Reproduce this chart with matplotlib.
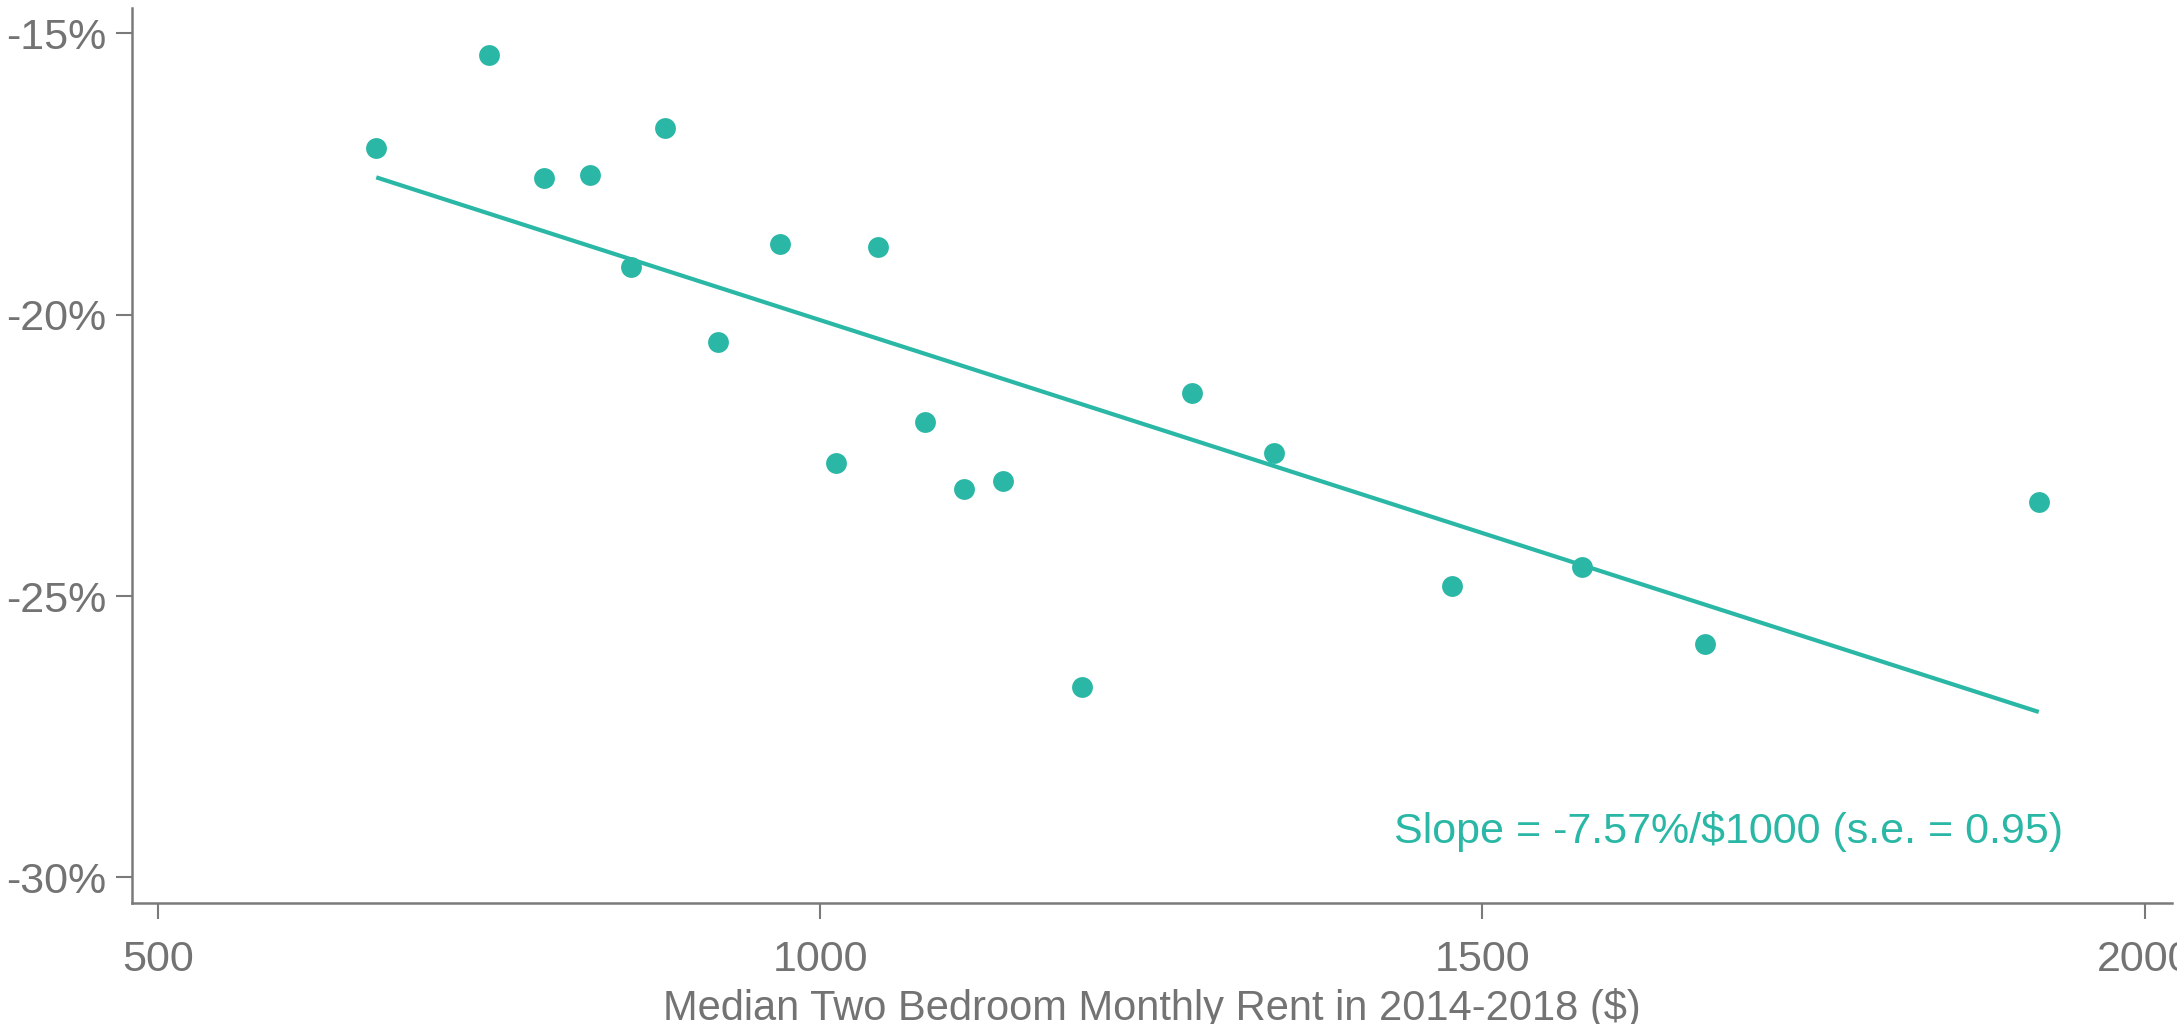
import numpy as np
import matplotlib
matplotlib.use("Agg")
import matplotlib.pyplot as plt
from matplotlib.ticker import FuncFormatter

# ===== Datos =====
rent = [665, 750, 792, 826, 857, 883, 923, 970, 1012, 1044,
        1079, 1109, 1138, 1198, 1281, 1343, 1477, 1575, 1668, 1920]
change = [-17.04, -15.38, -17.58, -17.51, -19.16, -16.68, -20.49, -18.74, -22.63, -18.79,
          -21.91, -23.10, -22.95, -26.62, -21.40, -22.46, -24.82, -24.48, -25.85, -23.33]

slope = -7.57      # % por cada $1000
slope_se = 0.95

x_ticks = [500, 1000, 1500, 2000]
y_ticks = [-30, -25, -20, -15]

TEAL = "#2AB7A5"
GREY = "#737373"
AXIS_GREY = "#7a7a7a"

plt.rcParams["font.family"] = ["Liberation Sans", "DejaVu Sans"]

# ===== Figura =====
fig = plt.figure(figsize=(21.77, 10.24), dpi=100)
ax = fig.add_axes([0.0605, 0.1179, 0.9372, 0.874])

x = np.array(rent, dtype=float)
y = np.array(change, dtype=float)

# recta de ajuste: pendiente del texto, pasando por las medias
xs = np.array([x.min(), x.max()])
ys = y.mean() + slope / 1000 * (xs - x.mean())
ax.plot(xs, ys, color=TEAL, lw=3.0, solid_capstyle="butt", zorder=2)

ax.plot(x, y, "o", color=TEAL, markersize=15, markeredgewidth=0, zorder=3)

ax.text(1938, -29.19, f"Slope = {slope:.2f}%/$1000 (s.e. = {slope_se:.2f})",
        color=TEAL, fontsize=31, ha="right", va="center")

# ===== Ejes =====
ax.set_xlim(480.4, 2020.6)
ax.set_ylim(-30.46, -14.556)
ax.set_xticks(x_ticks)
ax.set_yticks(y_ticks)
ax.yaxis.set_major_formatter(FuncFormatter(lambda v, p: f"{v:.0f}%"))

for side in ["top", "right"]:
    ax.spines[side].set_visible(False)
for side in ["left", "bottom"]:
    ax.spines[side].set_color(AXIS_GREY)
    ax.spines[side].set_linewidth(1.8)

ax.tick_params(axis="both", colors=AXIS_GREY, length=11.5, width=1.5,
               labelsize=31, labelcolor=GREY)
ax.tick_params(axis="x", pad=15)
ax.tick_params(axis="y", pad=7)

ax.set_xlabel("Median Two Bedroom Monthly Rent in 2014-2018 ($)",
              fontsize=30, color=GREY, labelpad=6)

fig.savefig("out.png", dpi=100)
